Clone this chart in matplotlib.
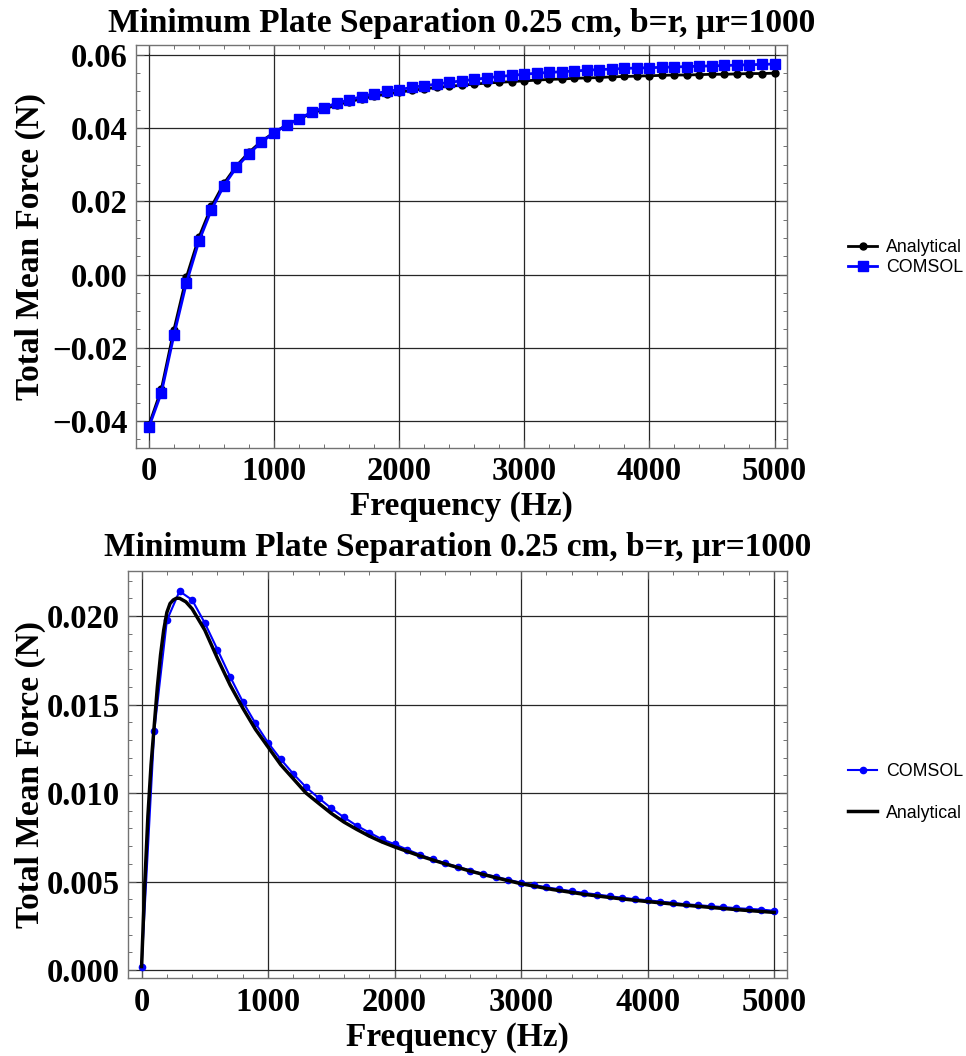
import numpy as np
import matplotlib
matplotlib.use('Agg')
import matplotlib.pyplot as plt
from matplotlib.ticker import MultipleLocator, FuncFormatter

# ---- data: top panel (every 100 Hz) ----
freq_top = list(range(0, 5001, 100))

analytical_top = [
    -0.0412, -0.0313, -0.0151, -0.0007, 0.0102, 0.0186, 0.0249, 0.0297, 0.0334, 0.0364,
    0.0388, 0.0408, 0.0425, 0.0440, 0.0452, 0.0463, 0.0472, 0.0480, 0.0487, 0.0493,
    0.0498, 0.0503, 0.0507, 0.0511, 0.0514, 0.0517, 0.0520, 0.0523, 0.0525, 0.0527,
    0.0529, 0.0531, 0.0533, 0.0534, 0.0536, 0.0537, 0.0538, 0.0540, 0.0541, 0.0542,
    0.0543, 0.0544, 0.0545, 0.0545, 0.0546, 0.0547, 0.0547, 0.0548, 0.0549, 0.0549,
    0.0550,
]

comsol_top = [
    -0.0417, -0.0323, -0.0166, -0.0023, 0.0091, 0.0177, 0.0243, 0.0293, 0.0330, 0.0362,
    0.0387, 0.0408, 0.0426, 0.0443, 0.0456, 0.0468, 0.0477, 0.0486, 0.0494, 0.0500,
    0.0505, 0.0511, 0.0516, 0.0520, 0.0525, 0.0529, 0.0533, 0.0537, 0.0541, 0.0544,
    0.0547, 0.0550, 0.0552, 0.0554, 0.0556, 0.0558, 0.0560, 0.0561, 0.0563, 0.0564,
    0.0565, 0.0566, 0.0567, 0.0568, 0.0569, 0.0570, 0.0571, 0.0572, 0.0573, 0.0574,
    0.0575,
]

# ---- data: bottom panel ----
freq_comsol_bot = list(range(0, 5001, 100))
comsol_bot = [
    0.0002, 0.0135, 0.01975, 0.0214, 0.0209, 0.0196, 0.0181, 0.01657, 0.01516, 0.01394,
    0.01284, 0.01191, 0.01108, 0.01033, 0.00972, 0.00914, 0.00863, 0.00816, 0.00777, 0.00739,
    0.00711, 0.00681, 0.00652, 0.00626, 0.00604, 0.00583, 0.00562, 0.00543, 0.00528, 0.00510,
    0.00494, 0.00481, 0.00468, 0.00457, 0.00446, 0.00436, 0.00427, 0.00418, 0.00408, 0.00401,
    0.00395, 0.00387, 0.00380, 0.00372, 0.00367, 0.00361, 0.00356, 0.00350, 0.00346, 0.00342,
    0.00335,
]

freq_an_bot = [0, 25, 50, 75, 100, 125, 150, 175, 200, 225, 250, 275, 300, 325, 350,
               400, 450, 500, 600, 700, 800, 900, 1000, 1100, 1200, 1300, 1400, 1500,
               1600, 1700, 1800, 1900, 2000, 2200, 2400, 2600, 2800, 3000, 3250, 3500,
               3750, 4000, 4250, 4500, 4750, 5000]
analytical_bot = [0.0002, 0.0048, 0.0087, 0.0116, 0.0138, 0.0160, 0.0178, 0.0192, 0.0202,
                  0.0207, 0.0209, 0.0210, 0.0210, 0.0209, 0.0208, 0.0204, 0.0198, 0.0192,
                  0.0176, 0.0161, 0.0148, 0.0136, 0.0126, 0.0116, 0.0108, 0.0100, 0.00942,
                  0.00885, 0.00836, 0.00795, 0.00757, 0.00724, 0.00696, 0.00645, 0.00600,
                  0.00559, 0.00522, 0.00488, 0.00455, 0.00428, 0.00406, 0.00387, 0.00370,
                  0.00354, 0.00339, 0.00326]

title = 'Minimum Plate Separation 0.25 cm, b=r, \u03bcr=1000'
serif = ['Liberation Serif', 'DejaVu Serif']
sans = ['Liberation Sans', 'DejaVu Sans']

fig = plt.figure(figsize=(9.66, 10.56), dpi=100)
ax1 = fig.add_axes([0.1405, 0.576, 0.6745, 0.3814])
ax2 = fig.add_axes([0.1328, 0.0736, 0.6819, 0.3857])


def fmt_func(decimals):
    def f(v, pos):
        if abs(v) < 1e-12:
            v = 0.0
        return f'{v:.{decimals}f}'.replace('-', '\u2212')
    return FuncFormatter(f)


def style(ax, ymajor, yminor, decimals, ylab_x):
    ax.set_xlim(-105, 5102)
    ax.xaxis.set_major_locator(MultipleLocator(1000))
    ax.xaxis.set_minor_locator(MultipleLocator(200))
    ax.yaxis.set_major_locator(MultipleLocator(ymajor))
    ax.yaxis.set_minor_locator(MultipleLocator(yminor))
    ax.yaxis.set_major_formatter(fmt_func(decimals))
    ax.tick_params(which='both', direction='in', top=True, right=True, color='0.35')
    ax.tick_params(which='major', length=6, width=0.8, pad=6)
    ax.tick_params(which='minor', length=3, width=0.6)
    for lab in ax.get_xticklabels() + ax.get_yticklabels():
        lab.set_family(serif)
        lab.set_fontweight('bold')
        lab.set_fontsize(23.5)
    ax.grid(True, which='major', color='0.15', linewidth=0.9)
    ax.set_axisbelow(True)
    for sp in ax.spines.values():
        sp.set_color('0.45')
        sp.set_linewidth(1.0)
    ax.set_xlabel('Frequency (Hz)', family=serif, fontweight='bold', fontsize=24, labelpad=3)
    ax.set_ylabel('Total Mean Force (N)', family=serif, fontweight='bold', fontsize=24)
    ax.yaxis.set_label_coords(ylab_x, 0.5)


# top panel
l1, = ax1.plot(freq_top, analytical_top, color='black', lw=2, marker='o', ms=5,
               label='Analytical')
l2, = ax1.plot(freq_top, comsol_top, color='#0000ff', lw=2, marker='s', ms=7.5,
               label='COMSOL')
ax1.set_ylim(-0.0473, 0.0627)
style(ax1, 0.02, 0.005, 2, -0.138)
ax1.set_title(title, family=serif, fontweight='bold', fontsize=24, pad=9)
fig.legend(handles=[l1, l2], loc='center left', bbox_to_anchor=(0.871, 1 - 257.5 / 1056),
           frameon=False, prop={'family': sans, 'size': 12.8}, handlelength=1.6,
           handletextpad=0.5, labelspacing=0.2, borderaxespad=0)

# bottom panel
l3, = ax2.plot(freq_comsol_bot, comsol_bot, color='#0000ff', lw=1.5, marker='o', ms=4.5,
               label='COMSOL')
l4, = ax2.plot(freq_an_bot, analytical_bot, color='black', lw=2.5, label='Analytical')
ax2.set_ylim(-0.00046, 0.02254)
style(ax2, 0.005, 0.001, 3, -0.125)
ax2.set_title(title, family=serif, fontweight='bold', fontsize=24, pad=11)
fig.legend(handles=[l3, l4], loc='center left', bbox_to_anchor=(0.871, 1 - 792.5 / 1056),
           frameon=False, prop={'family': sans, 'size': 12.8}, handlelength=1.6,
           handletextpad=0.5, labelspacing=1.35, borderaxespad=0)

fig.savefig('out.png', dpi=100)
